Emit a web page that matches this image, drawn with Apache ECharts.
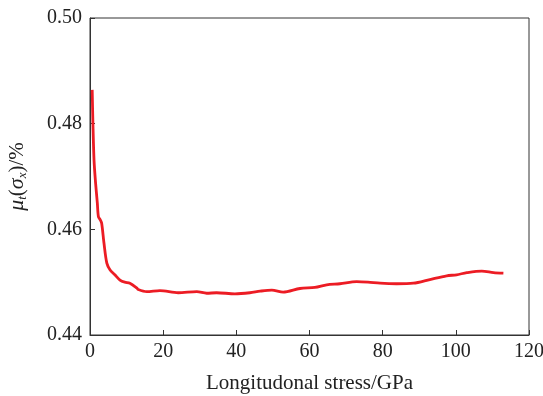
<!DOCTYPE html>
<html><head><meta charset="utf-8">
<script src="https://cdn.jsdelivr.net/npm/echarts@6/dist/echarts.min.js"></script>
<style>html,body{margin:0;padding:0;background:#fff}#c{width:543px;height:396px}</style>
</head><body><div id="c"></div>
<script>
const stress = [0.6, 0.8, 1.1, 1.5, 2.0, 2.3, 2.8, 3.2, 3.8, 4.6, 5.5, 6.8, 8.2, 9.5, 10.9, 12.8, 13.2, 15.5, 19.1, 24.1, 29.2, 31.9, 34.6, 39.6, 43.7, 46.5, 49.7, 52.8, 57.4, 61.5, 64.7, 68.3, 72.9, 76.0, 79.3, 83.8, 88.4, 92.9, 97.5, 100.2, 103.0, 107.1, 110.3, 113.0];
const mu = [0.4864, 0.4800, 0.4731, 0.4690, 0.4650, 0.4624, 0.4618, 0.4611, 0.4575, 0.4536, 0.4523, 0.4514, 0.4504, 0.4500, 0.4498, 0.4489, 0.4486, 0.4482, 0.4484, 0.4480, 0.4482, 0.4479, 0.4480, 0.4478, 0.4480, 0.4483, 0.4485, 0.4481, 0.4488, 0.4490, 0.4495, 0.4497, 0.4501, 0.4500, 0.4498, 0.4497, 0.4498, 0.4505, 0.4512, 0.4514, 0.4518, 0.4521, 0.4518, 0.4517];
const xTicks = [0, 20, 40, 60, 80, 100, 120];
const yTicks = [0.44, 0.46, 0.48, 0.50];

const chart = echarts.init(document.getElementById('c'));
const font = 'Liberation Serif';
chart.setOption({
  animation: false,
  grid: {left: 90, top: 18, right: 14, bottom: 61, show: true, borderColor: '#333', borderWidth: 1,
    containLabel: false, outerBoundsMode: 'none'},
  xAxis: {
    type: 'value', min: 0, max: 120, interval: 20,
    name: 'Longitudonal stress/GPa', nameLocation: 'middle', nameGap: 38,
    nameTextStyle: {fontFamily: font, fontSize: 21, color: '#222'},
    axisLine: {lineStyle: {color: '#333', width: 1}},
    axisTick: {inside: true, length: 5, lineStyle: {color: '#333'}},
    axisLabel: {fontFamily: font, fontSize: 20, color: '#222', margin: 7,
      formatter: v => xTicks.includes(v) ? String(v) : ''},
    splitLine: {show: false}
  },
  yAxis: {
    type: 'value', min: 0.44, max: 0.50, interval: 0.02,
    name: '{i|μ}{s|t}{n|(}{i|σ}{s|x}{n|)/%}', nameLocation: 'middle', nameGap: 61, nameRotate: 90,
    nameTextStyle: {fontFamily: font, fontSize: 21, color: '#222',
      rich: {
        i: {fontFamily: font, fontStyle: 'italic', fontSize: 22, color: '#222'},
        n: {fontFamily: font, fontSize: 21, color: '#222'},
        s: {fontFamily: font, fontStyle: 'italic', fontSize: 13, color: '#222', verticalAlign: 'bottom', padding: [10, 0, 0, 0]}
      }},
    axisLine: {lineStyle: {color: '#333', width: 1}},
    axisTick: {inside: true, length: 5, lineStyle: {color: '#333'}},
    axisLabel: {fontFamily: font, fontSize: 20, color: '#222', margin: 8,
      formatter: v => { const t = yTicks.find(y => Math.abs(y - v) < 1e-9); return t !== undefined ? t.toFixed(2) : ''; }},
    splitLine: {show: false}
  },
  series: [{
    type: 'line', data: stress.map((s, i) => [s, mu[i]]), showSymbol: false, smooth: 0.3,
    lineStyle: {color: '#ec1c24', width: 2.8}
  }]
});
</script></body></html>
